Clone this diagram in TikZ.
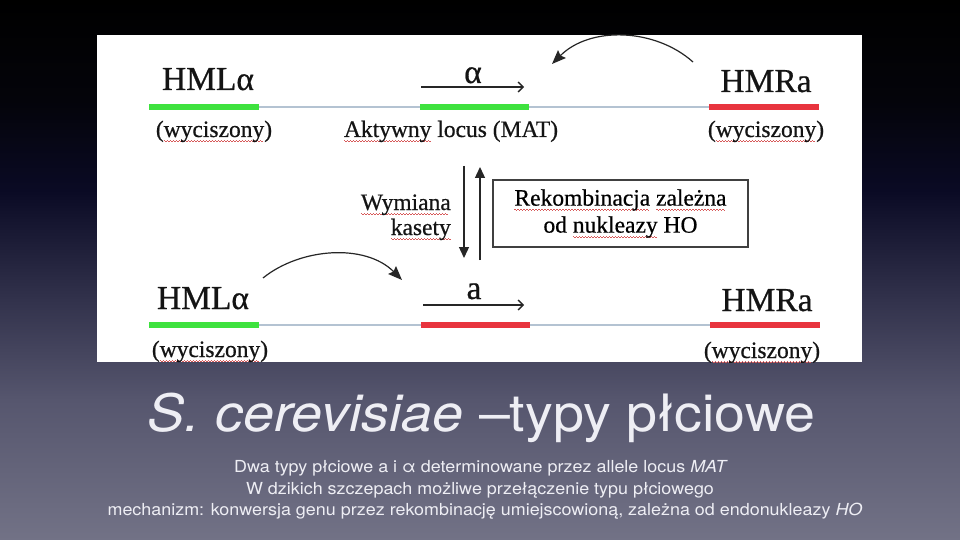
\documentclass[tikz,border=0pt]{standalone}
\usepackage{fontspec}
\setmainfont{Liberation Serif}[FakeBold=0.6]
\newfontfamily\hv[FakeStretch=1.08]{TeX Gyre Heros}
\usetikzlibrary{arrows.meta}
\definecolor{bargreen}{RGB}{62,226,62}
\definecolor{barred}{RGB}{232,52,62}
\definecolor{dnagray}{RGB}{180,195,210}
\definecolor{waver}{RGB}{215,90,90}
\definecolor{titlecol}{RGB}{238,238,244}
\definecolor{sc1}{RGB}{0,0,0}
\definecolor{sc2}{RGB}{4,4,10}
\definecolor{sc3}{RGB}{10,10,36}
\definecolor{sc4}{RGB}{50,50,76}
\definecolor{sc5}{RGB}{86,86,110}
\definecolor{sc6}{RGB}{114,114,134}
\pgfdeclareverticalshading{bgsh}{100bp}{color(0bp)=(sc6); color(25bp)=(sc6); color(37.96bp)=(sc5); color(47.2bp)=(sc4); color(57.4bp)=(sc3); color(65.7bp)=(sc2); color(75bp)=(sc1); color(100bp)=(sc1)}
\newsavebox\spbox
\newcommand\spell[1]{\sbox\spbox{#1}\rlap{\color{waver}\raisebox{-4pt}[0pt][0pt]{\leaders\hbox to 3pt{\rule{1.5pt}{0.7pt}\rule[-0.8pt]{1.5pt}{0.7pt}}\hskip\wd\spbox}}\usebox\spbox}
\tikzset{
  big/.style={font=\fontsize{33.5}{38}\selectfont, inner sep=0pt, anchor=base, text=black!92},
  small/.style={font=\fontsize{23.5}{28}\selectfont, inner sep=0pt, anchor=base, text=black!92},
  dna/.style={draw=dnagray, line width=2.5pt},
  gbar/.style={draw=bargreen, line width=6pt, line cap=butt},
  rbar/.style={draw=barred, line width=6pt, line cap=butt},
  thinarrow/.style={draw=black!85, line width=1.3pt, -{Straight Barb[length=5pt,width=10pt]}},
  curvearrow/.style={draw=black!85, line width=1.2pt, -{Stealth[length=14pt,width=11pt,inset=2pt]}},
  varrow/.style={draw=black!85, line width=1.3pt, -{Triangle[length=11pt,width=10pt]}},
  hobox/.style={draw=black!75, line width=1.3pt, minimum width=255pt, minimum height=67pt, inner sep=0pt, align=center, font=\fontsize{23.5}{27}\selectfont},
  slide/.style={font=\hv\fontsize{16.6}{20}\selectfont, text=titlecol, inner sep=0pt, anchor=base}
}
\begin{document}
\begin{tikzpicture}[x=1pt,y=-1pt]
\useasboundingbox (0,0) rectangle (960,540);
\shade[shading=bgsh] (0,0) rectangle (960,540);
\fill[white] (97,35) rectangle (862,362);
\begin{scope}
\clip (97,35) rectangle (862,362);
% top row
\node[big] (hml1) at (208,90) {HMLα};
\node[big] (alpha1) at (473,83) {α};
\node[big] (hmr1) at (766,92) {HMRa};
\node[small] (wyc1) at (214,137) {(\spell{wyciszony})};
\node[small] (mat) at (451,137) {\spell{Aktywny} locus (MAT)};
\node[small] (wyc2) at (766,137) {(\spell{wyciszony})};
\coordinate (g1a) at (149,107); \coordinate (g1b) at (259,107);
\coordinate (m1a) at (420,107); \coordinate (m1b) at (529,107);
\coordinate (r1a) at (709,107); \coordinate (r1b) at (819,107);
\draw[dna] (g1a) -- (r1b);
\draw[gbar] (g1a) -- (g1b);
\draw[gbar] (m1a) -- (m1b);
\draw[rbar] (r1a) -- (r1b);
\coordinate (ar1a) at (421,87); \coordinate (ar1b) at (524,87);
\draw[thinarrow] (ar1a) -- (ar1b);
\coordinate (c1s) at (693,62); \coordinate (c1e) at (552,64);
\draw[curvearrow] (c1s) .. controls (655,28) and (590,26) .. (c1e);
% middle
\coordinate (dnA) at (464,166); \coordinate (dnB) at (464,258);
\draw[varrow] (dnA) -- (dnB);
\coordinate (upA) at (480,260); \coordinate (upB) at (480,167);
\draw[varrow] (upA) -- (upB);
\node[small, anchor=base east] (wym) at (451,210) {\spell{Wymiana}};
\node[small, anchor=base east] (kas) at (451,235) {\spell{kasety}};
\node[hobox] (hob) at (620.5,213.5) {\spell{Rekombinacja} \spell{zależna}\\od \spell{nukleazy} HO};
% bottom row
\node[big] (hml2) at (203,309) {HMLα};
\node[big] (a2) at (474,299) {a};
\node[big] (hmr2) at (767,311) {HMRa};
\node[small] (wyc3) at (210,357) {(\spell{wyciszony})};
\node[small] (wyc4) at (762,358) {(\spell{wyciszony})};
\coordinate (g2a) at (149,325); \coordinate (g2b) at (259,325);
\coordinate (m2a) at (421,325); \coordinate (m2b) at (530,325);
\coordinate (r2a) at (710,325); \coordinate (r2b) at (820,325);
\draw[dna] (g2a) -- (r2b);
\draw[gbar] (g2a) -- (g2b);
\draw[rbar] (m2a) -- (m2b);
\draw[rbar] (r2a) -- (r2b);
\coordinate (ar2a) at (423,305); \coordinate (ar2b) at (524,305);
\draw[thinarrow] (ar2a) -- (ar2b);
\coordinate (c2s) at (263,278); \coordinate (c2e) at (402,280);
\draw[curvearrow] (c2s) .. controls (300,248) and (365,243) .. (c2e);
\end{scope}
% slide text
\node[font=\hv\fontsize{51.5}{60}\selectfont, text=titlecol, inner sep=0pt, anchor=base] (title) at (481.5,431) {\textit{S. cerevisiae} –typy płciowe};
\node[slide] (l1) at (481,472) {Dwa typy płciowe a i α determinowane przez allele locus \textit{MAT}};
\node[slide] (l2) at (480,494) {W dzikich szczepach możliwe przełączenie typu płciowego};
\node[slide] (l3) at (485,515) {mechanizm: konwersja genu przez rekombinację umiejscowioną, zależna od endonukleazy \textit{HO}};
\end{tikzpicture}
\end{document}
